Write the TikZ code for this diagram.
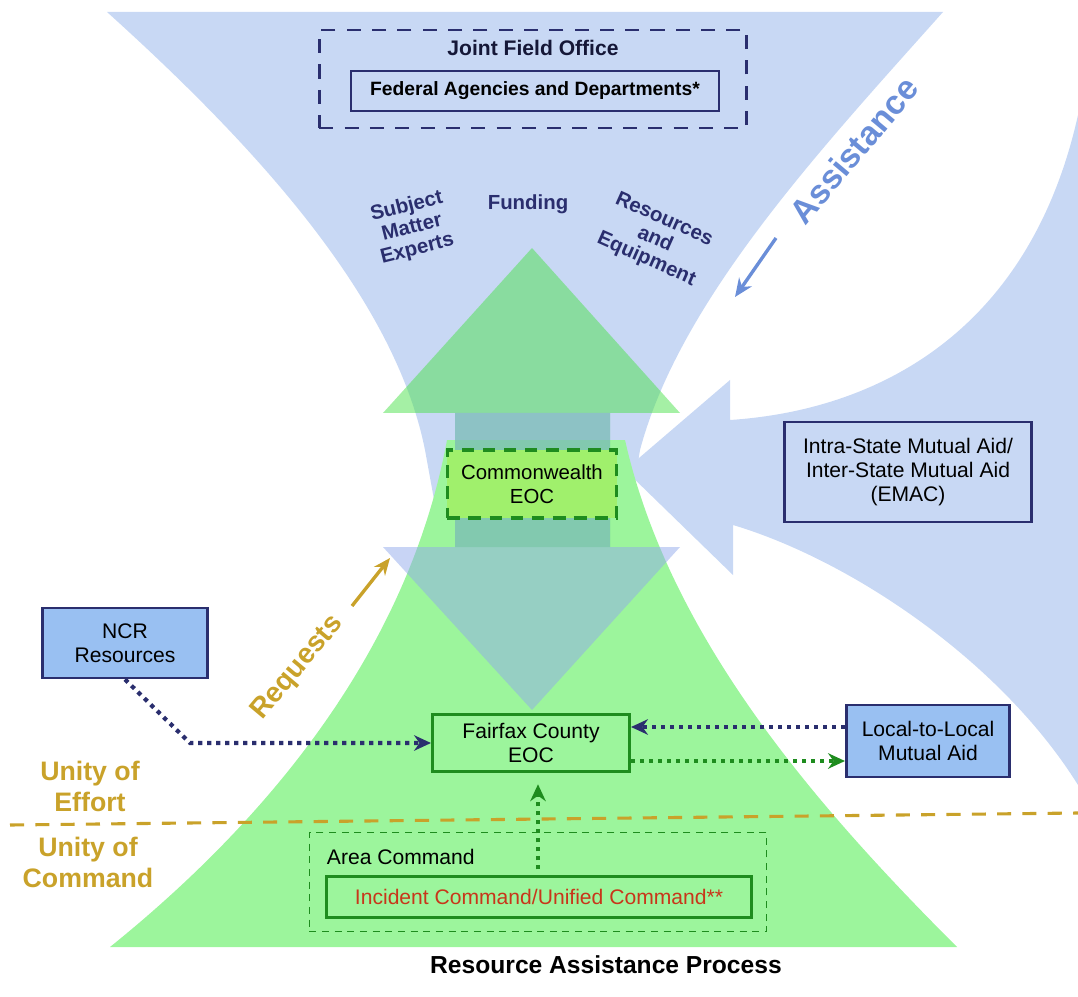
\documentclass[tikz,border=0pt]{standalone}
\usepackage{fontspec}
\setmainfont{Liberation Sans}
\usetikzlibrary{arrows.meta}

\definecolor{funnelblue}{HTML}{C8D8F4}
\definecolor{funnelgreen}{HTML}{9CF59C}
\definecolor{upgreen}{HTML}{4BE14B}
\definecolor{downblue}{HTML}{91AAEB}
\definecolor{boxblue}{HTML}{99C0F2}
\definecolor{cwgreen}{HTML}{A0F06C}
\definecolor{navy}{HTML}{2A2E6E}
\definecolor{darkgreen}{HTML}{1E8C1E}
\definecolor{gold}{HTML}{C9A22A}
\definecolor{assistblue}{HTML}{6A8ED8}
\definecolor{incred}{HTML}{C8361A}

\begin{document}
\begin{tikzpicture}[x=0.025cm, y=-0.025cm, font=\fontsize{15}{17}\selectfont,
    bluebox/.style={draw=navy, fill=boxblue, line width=2pt, align=center, inner sep=0pt},
    greenbox/.style={draw=darkgreen, fill=funnelgreen, line width=2pt, align=center, inner sep=0pt},
    navylabel/.style={text=navy, font=\fontsize{14.5}{15.5}\selectfont\bfseries, align=center},
    unity/.style={text=gold, font=\fontsize{19}{22}\selectfont\bfseries, align=center},
    navydots/.style={draw=navy, line width=3pt, dash pattern=on 3pt off 3.4pt, -{Stealth[length=12pt, width=11pt]}},
    greendots/.style={draw=darkgreen, line width=3pt, dash pattern=on 3pt off 3.4pt, -{Stealth[length=12pt, width=11pt]}}]
\useasboundingbox (0,0) rectangle (1078,997);

% hourglass and side arrow
\fill[funnelblue] (107,12) -- (943,12) .. controls (820,150) and (680,300) .. (640,450) -- (622,560)
    -- (445,560) -- (425,450) .. controls (395,300) and (260,150) .. (107,12) -- cycle;
\fill[funnelblue] (625,470) -- (730,380) -- (730,420) .. controls (880,410) and (1030,330) .. (1078,115)
    -- (1078,785) .. controls (1000,660) and (850,560) .. (733,525) -- (733,575) -- cycle;
\fill[funnelgreen] (110,947) .. controls (280,810) and (410,640) .. (447,440)
    -- (625,440) .. controls (670,640) and (820,810) .. (957,947) -- cycle;
\fill[upgreen, opacity=.5] (532,248) -- (680,413) -- (610,413) -- (610,547) -- (455,547) -- (455,413) -- (383,413) -- cycle;
\fill[downblue, opacity=.5] (455,413) -- (610,413) -- (610,547) -- (680,547) -- (532,710) -- (383,547) -- (455,547) -- cycle;

% federal level
\node[draw=navy, line width=2pt, dash pattern=on 10pt off 8pt, minimum width=10.68cm, minimum height=2.45cm] (jfo) at (533,79) {};
\node[text=navy!50!black, font=\fontsize{15}{17}\selectfont\bfseries] (jfotitle) at (533,48) {Joint Field Office};
\node[draw=navy, line width=1.3pt, minimum width=9.18cm, minimum height=1cm, font=\fontsize{13.7}{16}\selectfont\bfseries] (fed) at (535,91) {Federal Agencies and Departments*};

\node[navylabel, rotate=14] (sme) at (412,228) {Subject\\Matter\\Experts};
\node[navylabel] (funding) at (528,204) {Funding};
\node[navylabel, rotate=-24] (reseq) at (655,240) {Resources\\and\\Equipment};

\node[text=assistblue, font=\fontsize{24}{26}\selectfont\bfseries, rotate=50] (assist) at (854,150) {Assistance};
\coordinate (assisttail) at (776,238);
\coordinate (assisttip) at (735,297);
\draw[assistblue, line width=2.4pt, -{Stealth[length=13pt, width=11pt]}] (assisttail) -- (assisttip);

\node[text=gold, font=\fontsize{20}{22}\selectfont\bfseries, rotate=50] (req) at (298,668) {Requests};
\coordinate (reqtail) at (352,606);
\coordinate (reqtip) at (390,558);
\draw[gold, line width=2.4pt, -{Stealth[length=12pt, width=10pt]}] (reqtail) -- (reqtip);

% state and local boxes
\node[draw=darkgreen, fill=cwgreen, line width=2.4pt, dash pattern=on 9pt off 6pt, align=center,
    minimum width=4.23cm, minimum height=1.7cm, font=\fontsize{14.5}{17}\selectfont] (cw) at (532,484) {Commonwealth\\EOC};
\node[bluebox, fill=funnelblue, minimum width=6.18cm, minimum height=2.5cm] (emac) at (908,472)
    {Intra-State Mutual Aid/\\Inter-State Mutual Aid\\(EMAC)};
\node[bluebox, minimum width=4.13cm, minimum height=1.75cm] (ncr) at (125,643) {NCR\\Resources};
\node[bluebox, minimum width=4.08cm, minimum height=1.8cm] (local) at (928,741) {Local-to-Local\\Mutual Aid};

% effort / command split
\draw[gold, line width=2.2pt, dash pattern=on 10pt off 8pt] (10,825) -- (1078,813);
\node[unity] (effort) at (90,786) {Unity of\\Effort};
\node[unity] (command) at (88,862) {Unity of\\Command};

\node[greenbox, minimum width=4.93cm, minimum height=1.43cm] (ffx) at (531,743) {Fairfax County\\EOC};
\node[draw=darkgreen, line width=1pt, dash pattern=on 5pt off 4pt, minimum width=11.43cm, minimum height=2.48cm] (area) at (538,882) {};
\node[anchor=west] (areatitle) at (322,857) {Area Command};
\node[greenbox, text=incred, minimum width=10.63cm, minimum height=1.03cm] (inc) at (539,897) {Incident Command/Unified Command**};

% flows
\coordinate (ncrbend) at (190,743);
\draw[navydots] (ncr.south) -- (ncrbend) -- (ffx.west);
\draw[navydots] ([yshift=0.35cm]local.west) -- ([yshift=0.35cm]local.west -| ffx.east);
\draw[greendots] ([yshift=-0.45cm]ffx.east) -- ([yshift=-0.45cm]ffx.east -| local.west);
\draw[greendots, shorten <=4pt, shorten >=8pt] (inc.north -| 538,0) -- (ffx.south -| 538,0);

\node[font=\fontsize{17.5}{20}\selectfont\bfseries] (title) at (606,965) {Resource Assistance Process};
\end{tikzpicture}
\end{document}
